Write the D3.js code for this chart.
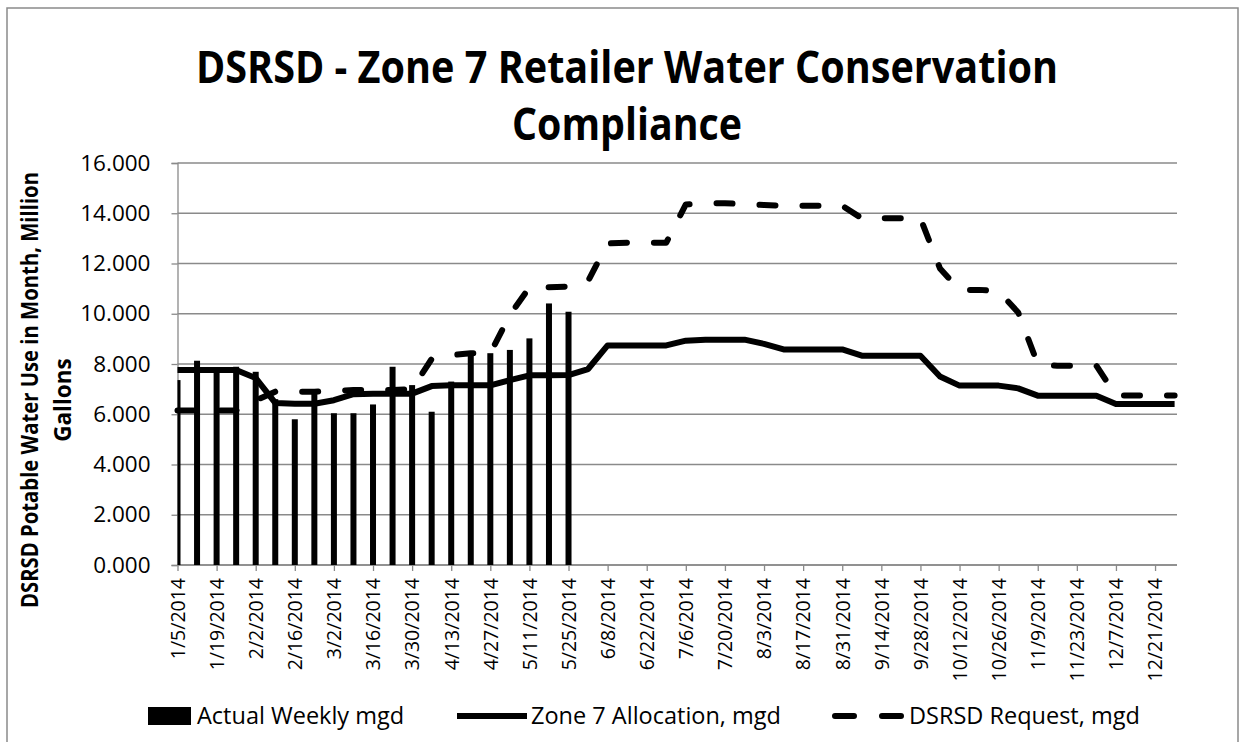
<!DOCTYPE html>
<html>
<head>
<meta charset="utf-8">
<script src="https://cdn.jsdelivr.net/npm/d3@7"></script>
<style>
  body { margin: 0; background: #fff; }
  #container { width: 1243px; height: 742px; }
</style>
</head>
<body>
<div id="container"></div>
<script>
// weekly categories (Sundays of 2014)
const weeks = ['1/5/2014','1/12/2014','1/19/2014','1/26/2014','2/2/2014','2/9/2014','2/16/2014','2/23/2014',
  '3/2/2014','3/9/2014','3/16/2014','3/23/2014','3/30/2014','4/6/2014','4/13/2014','4/20/2014','4/27/2014',
  '5/4/2014','5/11/2014','5/18/2014','5/25/2014','6/1/2014','6/8/2014','6/15/2014','6/22/2014','6/29/2014',
  '7/6/2014','7/13/2014','7/20/2014','7/27/2014','8/3/2014','8/10/2014','8/17/2014','8/24/2014','8/31/2014',
  '9/7/2014','9/14/2014','9/21/2014','9/28/2014','10/5/2014','10/12/2014','10/19/2014','10/26/2014',
  '11/2/2014','11/9/2014','11/16/2014','11/23/2014','11/30/2014','12/7/2014','12/14/2014','12/21/2014','12/28/2014'];

// Actual Weekly mgd (only reported through 5/25)
const actualWeekly = [7.36, 8.13, 7.72, 7.89, 7.69, 6.60, 5.80, 6.90, 6.04, 6.04, 6.39, 7.89, 7.16, 6.10,
  7.30, 8.43, 8.43, 8.56, 9.02, 10.41, 10.08];

// Zone 7 Allocation, mgd
const zone7Allocation = [7.76, 7.76, 7.76, 7.76, 7.44, 6.45, 6.42, 6.42, 6.56, 6.80, 6.82, 6.82, 6.82,
  7.12, 7.15, 7.15, 7.15, 7.36, 7.55, 7.55, 7.56, 7.80, 8.74, 8.74, 8.74, 8.74, 8.93, 8.97, 8.97, 8.97,
  8.80, 8.58, 8.58, 8.58, 8.58, 8.33, 8.33, 8.33, 8.33, 7.50, 7.14, 7.14, 7.14, 7.03, 6.74, 6.74, 6.74,
  6.74, 6.41, 6.41, 6.41, 6.41];

// DSRSD Request, mgd
const dsrsdRequest = [6.15, 6.15, 6.15, 6.15, 6.55, 6.90, 6.90, 6.90, 6.92, 6.97, 6.97, 6.97, 7.00,
  8.20, 8.35, 8.43, 8.43, 9.95, 11.05, 11.05, 11.08, 11.30, 12.80, 12.83, 12.83, 12.83, 14.35, 14.40,
  14.40, 14.36, 14.33, 14.30, 14.30, 14.30, 14.30, 13.80, 13.80, 13.80, 13.80, 11.80, 10.95, 10.95,
  10.90, 10.05, 8.00, 7.93, 7.93, 7.93, 6.75, 6.75, 6.75, 6.75];

const yTicks = [0, 2, 4, 6, 8, 10, 12, 14, 16];
const legendLabels = ['Actual Weekly mgd', 'Zone 7 Allocation, mgd', 'DSRSD Request, mgd'];

let w = 1243,
    h = 742;

let plotLeft = 177.5, plotRight = 1177, plotTop = 163, plotBottom = 565;
let font = "'Open Sans', 'Noto Sans', sans-serif";
let gray = '#8a8a8a';

let viz = d3.select('#container')
  .append('svg')
    .attr('width', w)
    .attr('height', h)
    .style('background', 'white');

function main() {
  // chart frame
  viz.append('rect')
    .attr('x', 7).attr('y', 8)
    .attr('width', 1231).attr('height', 745)
    .attr('fill', 'none')
    .attr('stroke', gray)
    .attr('stroke-width', 1.5);

  let x = d3.scalePoint().domain(weeks).range([plotLeft, 1174.6]);
  let y = d3.scaleLinear().domain([0, 16]).range([plotBottom, plotTop]);

  // title (narrow Calibri look: bigger size, squeezed to the original width)
  let title = viz.append('g')
    .attr('font-family', font)
    .attr('font-weight', 700)
    .attr('font-size', 45)
    .attr('text-anchor', 'middle')
    .attr('fill', 'black');
  title.append('text').attr('x', 627).attr('y', 83)
    .attr('textLength', 862).attr('lengthAdjust', 'spacingAndGlyphs')
    .text('DSRSD - Zone 7 Retailer Water Conservation');
  title.append('text').attr('x', 627).attr('y', 140)
    .attr('textLength', 230).attr('lengthAdjust', 'spacingAndGlyphs')
    .text('Compliance');

  // gridlines
  viz.append('g')
    .selectAll('line')
    .data(yTicks)
    .enter().append('line')
      .attr('x1', plotLeft).attr('x2', plotRight)
      .attr('y1', d => y(d)).attr('y2', d => y(d))
      .attr('stroke', gray)
      .attr('stroke-width', 1.3);

  // y axis
  let yAxis = viz.append('g')
    .attr('transform', 'translate(' + plotLeft + ',0)')
    .call(d3.axisLeft(y).tickValues(yTicks).tickSize(6).tickPadding(21).tickFormat(d3.format('.3f')));
  yAxis.select('.domain').attr('stroke', gray).attr('stroke-width', 1.3);
  yAxis.selectAll('.tick line').attr('stroke', gray).attr('stroke-width', 1.3);
  yAxis.selectAll('text')
    .attr('font-family', font)
    .attr('font-size', 22.5)
    .attr('fill', 'black');

  // x axis
  let xAxis = viz.append('g')
    .attr('transform', 'translate(0,' + plotBottom + ')')
    .call(d3.axisBottom(x).tickValues(weeks.filter((d, i) => i % 2 === 0)).tickSize(6).tickSizeOuter(0));
  xAxis.select('.domain').attr('stroke', gray).attr('stroke-width', 1.3)
    .attr('d', 'M' + plotLeft + ',0H' + plotRight);
  xAxis.selectAll('.tick line').attr('stroke', gray).attr('stroke-width', 1.3);
  xAxis.selectAll('text')
    .attr('font-family', font)
    .attr('font-size', 19.5)
    .attr('fill', 'black')
    .attr('text-anchor', 'end')
    .attr('y', 0)
    .attr('dy', '0.35em')
    .attr('transform', 'translate(0,13) rotate(-90)');

  // y axis title
  let ytitle = viz.append('g')
    .attr('font-family', font)
    .attr('font-weight', 700)
    .attr('font-size', 22.5)
    .attr('text-anchor', 'middle')
    .attr('fill', 'black');
  ytitle.append('text')
    .attr('transform', 'translate(38,390) rotate(-90)')
    .attr('textLength', 436).attr('lengthAdjust', 'spacingAndGlyphs')
    .text('DSRSD Potable Water Use in Month, Million');
  ytitle.append('text')
    .attr('transform', 'translate(71,400) rotate(-90)')
    .text('Gallons');

  // bars, clipped to the plot area
  viz.append('clipPath').attr('id', 'plotclip')
    .append('rect')
      .attr('x', plotLeft).attr('y', plotTop)
      .attr('width', plotRight - plotLeft).attr('height', plotBottom - plotTop);

  viz.append('g')
    .attr('clip-path', 'url(#plotclip)')
    .selectAll('rect')
    .data(actualWeekly)
    .enter().append('rect')
      .attr('x', (d, i) => x(weeks[i]) - 3)
      .attr('width', 6)
      .attr('y', d => y(d))
      .attr('height', d => plotBottom - y(d))
      .attr('fill', 'black');

  let line = d3.line()
    .x((d, i) => x(weeks[i]))
    .y(d => y(d));

  viz.append('path')
    .datum(zone7Allocation)
    .attr('d', line)
    .attr('fill', 'none')
    .attr('stroke', 'black')
    .attr('stroke-width', 6)
    .attr('stroke-linejoin', 'round');

  viz.append('path')
    .datum(dsrsdRequest)
    .attr('d', line)
    .attr('fill', 'none')
    .attr('stroke', 'black')
    .attr('stroke-width', 6)
    .attr('stroke-linejoin', 'round')
    .attr('stroke-linecap', 'round')
    .style('stroke-dasharray', ('16,27'));

  // legend
  let legend = viz.append('g')
    .attr('font-family', font)
    .attr('font-size', 23.5)
    .attr('fill', 'black');

  legend.append('rect')
    .attr('x', 148).attr('y', 707)
    .attr('width', 43).attr('height', 18)
    .attr('fill', 'black');
  legend.append('text').attr('x', 197).attr('y', 724).text(legendLabels[0]);

  legend.append('line')
    .attr('x1', 457).attr('x2', 527)
    .attr('y1', 716).attr('y2', 716)
    .attr('stroke', 'black')
    .attr('stroke-width', 6);
  legend.append('text').attr('x', 531).attr('y', 724).text(legendLabels[1]);

  legend.append('line')
    .attr('x1', 835).attr('x2', 901)
    .attr('y1', 716).attr('y2', 716)
    .attr('stroke', 'black')
    .attr('stroke-width', 6)
    .attr('stroke-linecap', 'round')
    .style('stroke-dasharray', ('19,28'));
  legend.append('text').attr('x', 909).attr('y', 724).text(legendLabels[2]);
}

main();
</script>
</body>
</html>
